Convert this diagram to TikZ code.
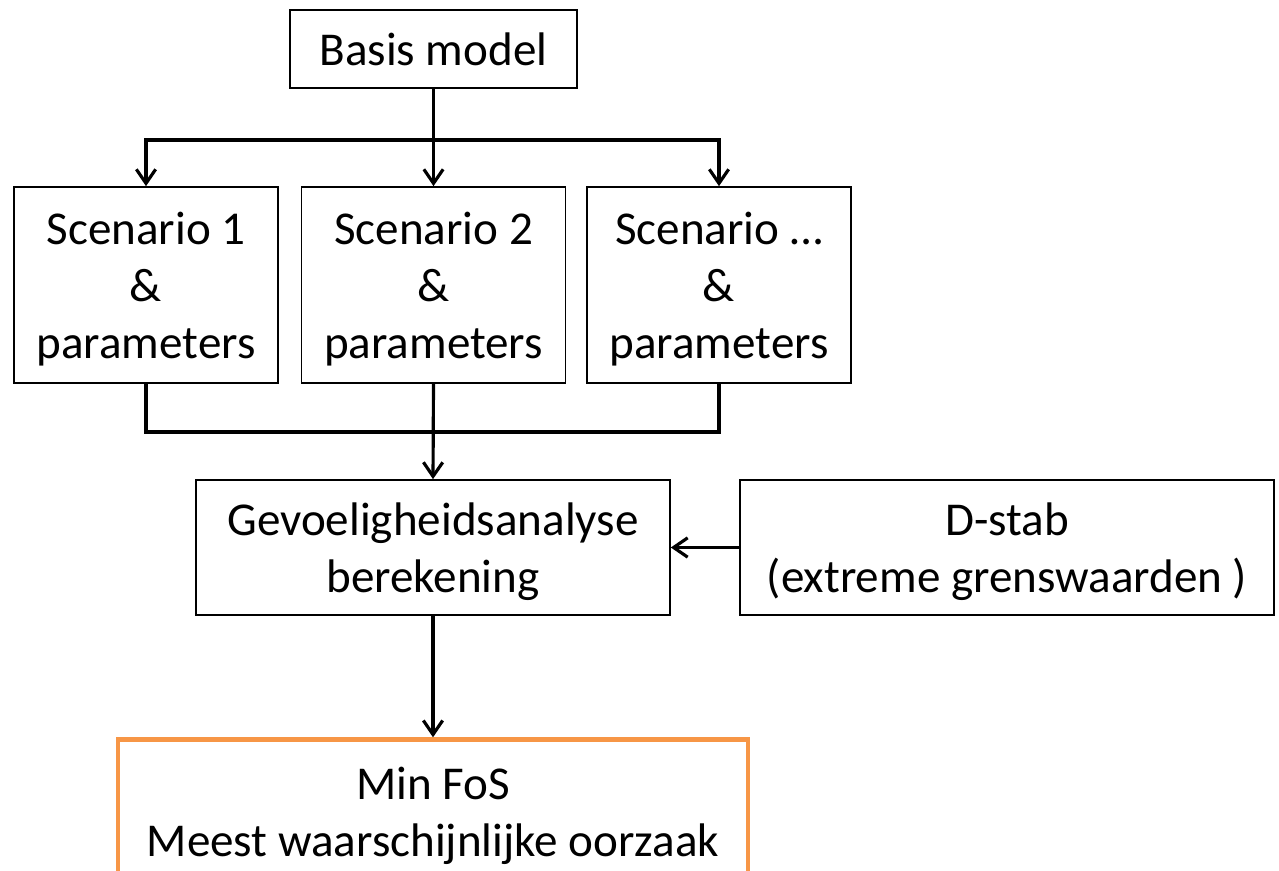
\documentclass[tikz,border=0pt]{standalone}
\usepackage{fontspec}
\setmainfont{Carlito}
\usetikzlibrary{arrows.meta,positioning}
\definecolor{Ink}{HTML}{000000}
\definecolor{ResultOrange}{HTML}{F79646}
\newcommand{\boxfont}{\fontsize{26.8}{32.4}\selectfont}

\begin{document}
\begin{tikzpicture}[
    x=0.02cm, y=-0.02cm,
    stage/.style={
      draw=Ink,
      line width=1pt,
      align=center,
      inner sep=0pt,
      text depth=0pt,
      font=\boxfont
    },
    wire/.style={draw=Ink, line width=1.8pt},
    flow/.style={wire, -{Straight Barb[length=8pt,width=11pt,line width=1.8pt]}}
  ]
  \clip (0,0) rectangle (1279,871);

  % top of the chain
  \node[stage, minimum width=5.74cm, minimum height=1.56cm] (basis) at (433.5,49) {Basis model};

  % the three scenarios
  \node[stage, minimum width=5.28cm, minimum height=3.92cm] (sc1) at (146,285) {Scenario 1\\\&\\parameters};
  \node[stage, minimum width=5.28cm, minimum height=3.92cm] (sc2) at (433.5,285) {Scenario 2\\\&\\parameters};
  \node[stage, minimum width=5.28cm, minimum height=3.92cm] (sc3) at (719,285) {Scenario \dots\\\&\\parameters};

  % analysis and its input
  \node[stage, minimum width=9.48cm, minimum height=2.7cm] (gev) at (433,547.5) {Gevoeligheidsanalyse\\berekening};
  \node[stage, minimum width=10.68cm, minimum height=2.7cm] (dstab) at (1007,547.5) {D-stab\\(extreme grenswaarden )};

  % result, runs off the bottom edge
  \node[stage, draw=ResultOrange, line width=2.5pt, minimum width=12.6cm, minimum height=2.9cm] (fos) at (433,812) {Min FoS\\Meest waarschijnlijke oorzaak};

  \coordinate (split) at (433.5,140);
  \coordinate (merge) at (433.5,432);

  \draw[wire] (basis.south) -- (split);
  \draw[flow] (split) -| (sc1.north);
  \draw[flow] (split) -| (sc3.north);
  \draw[flow] (split) -- (sc2.north);

  \draw[wire] (sc1.south) |- (merge) -| (sc3.south);
  \draw[flow] (sc2.south) -- (gev.north);

  \draw[flow] (dstab.west) -- (gev.east);
  \draw[flow] (gev.south) -- (fos.north);
\end{tikzpicture}
\end{document}
